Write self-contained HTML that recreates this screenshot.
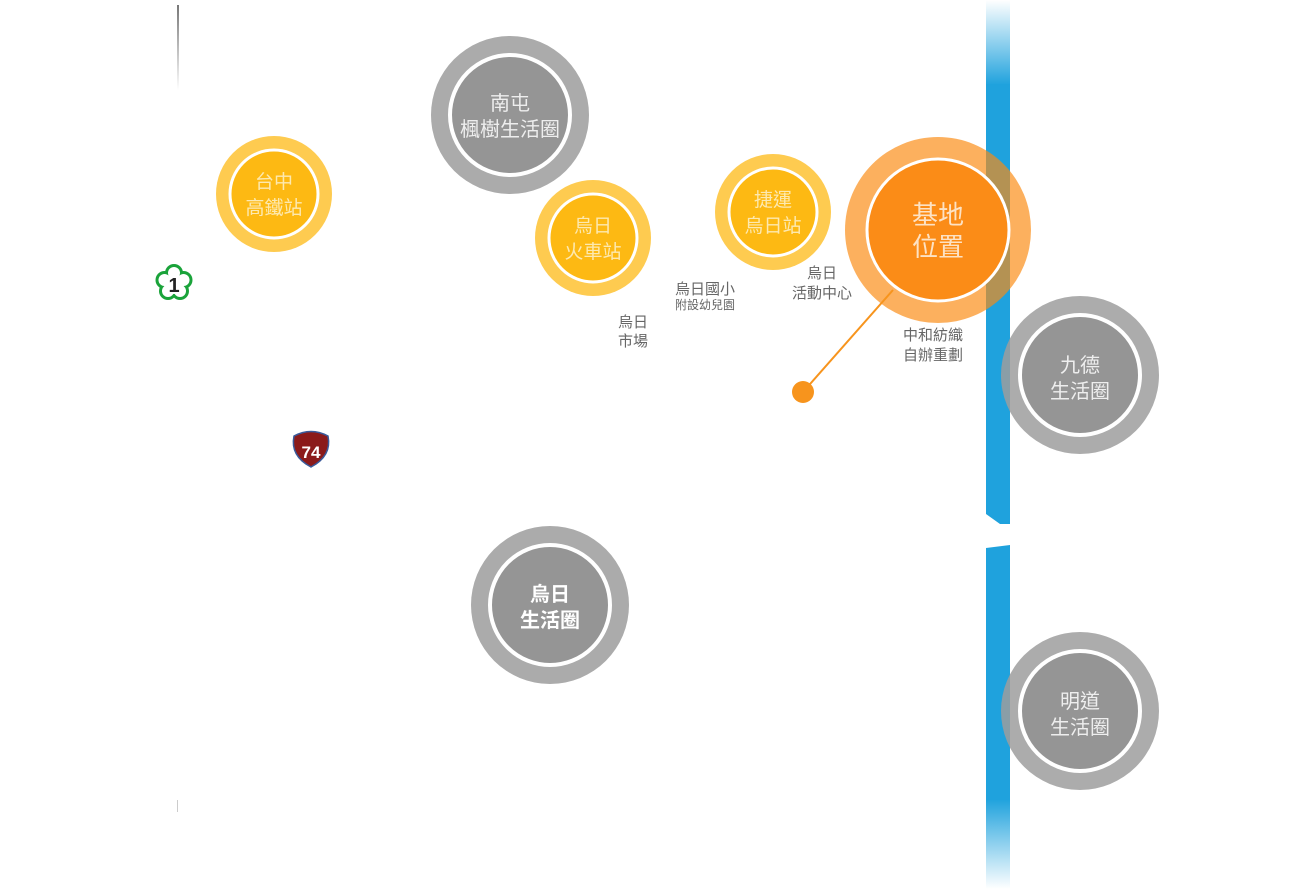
<!DOCTYPE html>
<html><head><meta charset="utf-8"><style>
html,body{margin:0;padding:0;background:#fff;}
svg{display:block;}
text{font-family:"Liberation Sans","Noto Sans CJK TC",sans-serif;}
</style></head><body>
<svg width="1300" height="889" viewBox="0 0 1300 889" xmlns="http://www.w3.org/2000/svg">
<defs>
<linearGradient id="bt" x1="0" y1="0" x2="0" y2="1"><stop offset="0" stop-color="#1fa2dd" stop-opacity="0"/><stop offset="1" stop-color="#1fa2dd"/></linearGradient>
<linearGradient id="bb" x1="0" y1="0" x2="0" y2="1"><stop offset="0" stop-color="#1fa2dd"/><stop offset="1" stop-color="#1fa2dd" stop-opacity="0"/></linearGradient>
<linearGradient id="gl" x1="0" y1="0" x2="0" y2="1"><stop offset="0" stop-color="#777"/><stop offset="1" stop-color="#777" stop-opacity="0"/></linearGradient>
</defs>
<rect x="177" y="5" width="2" height="85" fill="url(#gl)"/>
<rect x="177" y="800" width="1" height="12" fill="#ccc"/>
<rect x="986" y="0" width="24" height="85" fill="url(#bt)"/>
<polygon points="986,84 1010,84 1010,524 1000,524 986,514" fill="#1fa2dd"/>
<polygon points="986,548 1010,545 1010,800 986,800" fill="#1fa2dd"/>
<rect x="986" y="799" width="24" height="90" fill="url(#bb)"/>
<g text-anchor="middle">
<circle cx="274" cy="194" r="58" fill="#fecb50"/><circle cx="274" cy="194" r="44" fill="#fdb913" stroke="#fff" stroke-width="3"/>
<text x="274" y="188" font-size="19" fill="#fde9b0">台中</text><text x="274" y="214" font-size="19" fill="#fde9b0">高鐵站</text>
<circle cx="510" cy="115" r="79" fill="#ababab"/><circle cx="510" cy="115" r="60" fill="#959595" stroke="#fff" stroke-width="4"/>
<text x="510" y="110" font-size="20" fill="#eee">南屯</text><text x="510" y="136" font-size="20" fill="#eee">楓樹生活圈</text>
<circle cx="593" cy="238" r="58" fill="#fecb50"/><circle cx="593" cy="238" r="44" fill="#fdb913" stroke="#fff" stroke-width="3"/>
<text x="593" y="232" font-size="19" fill="#fde9b0">烏日</text><text x="593" y="258" font-size="19" fill="#fde9b0">火車站</text>
<circle cx="773" cy="212" r="58" fill="#fecb50"/><circle cx="773" cy="212" r="44" fill="#fdb913" stroke="#fff" stroke-width="3"/>
<text x="773" y="206" font-size="19" fill="#fde9b0">捷運</text><text x="773" y="232" font-size="19" fill="#fde9b0">烏日站</text>
<circle cx="938" cy="230" r="93" fill="#fb8a12" fill-opacity="0.68"/><circle cx="938" cy="230" r="71" fill="#fb8c17" stroke="#fff" stroke-width="3"/>
<text x="938" y="224" font-size="26" fill="#fde2c4">基地</text><text x="938" y="256" font-size="26" fill="#fde2c4">位置</text>
<line x1="803" y1="392" x2="893" y2="290" stroke="#f7941d" stroke-width="2"/>
<circle cx="803" cy="392" r="11" fill="#f7941d"/>
<circle cx="1080" cy="375" r="79" fill="#9d9d9d" fill-opacity="0.85"/><circle cx="1080" cy="375" r="60" fill="#959595" stroke="#fff" stroke-width="4"/>
<text x="1080" y="372" font-size="20" fill="#eee">九德</text><text x="1080" y="398" font-size="20" fill="#eee">生活圈</text>
<circle cx="1080" cy="711" r="79" fill="#9d9d9d" fill-opacity="0.85"/><circle cx="1080" cy="711" r="60" fill="#959595" stroke="#fff" stroke-width="4"/>
<text x="1080" y="708" font-size="20" fill="#eee">明道</text><text x="1080" y="734" font-size="20" fill="#eee">生活圈</text>
<circle cx="550" cy="605" r="79" fill="#ababab"/><circle cx="550" cy="605" r="60" fill="#959595" stroke="#fff" stroke-width="4"/>
<text x="550" y="601" font-size="20" font-weight="bold" fill="#fff">烏日</text><text x="550" y="627" font-size="20" font-weight="bold" fill="#fff">生活圈</text>
<g fill="#666" font-size="15">
<text x="633" y="327">烏日</text><text x="633" y="346">市場</text>
<text x="705" y="294">烏日國小</text><text x="705" y="309" font-size="12">附設幼兒園</text>
<text x="822" y="278">烏日</text><text x="822" y="298">活動中心</text>
<text x="933" y="340">中和紡織</text><text x="933" y="360">自辦重劃</text>
</g>
</g>
<!-- route 1 flower -->
<g fill="#1aa33a">
<circle cx="174" cy="273" r="9"/><circle cx="183.5" cy="280" r="9"/><circle cx="180" cy="291" r="9"/><circle cx="168" cy="291" r="9"/><circle cx="164.5" cy="280" r="9"/>
</g>
<g fill="#fff">
<circle cx="174" cy="273" r="6"/><circle cx="183.5" cy="280" r="6"/><circle cx="180" cy="291" r="6"/><circle cx="168" cy="291" r="6"/><circle cx="164.5" cy="280" r="6"/><circle cx="174" cy="284" r="10"/>
</g>
<text x="174" y="292" text-anchor="middle" font-size="20" font-weight="bold" fill="#222">1</text>
<!-- route 74 shield -->
<path d="M294,436 q17,-9 34,0 q4,20 -17,31 q-21,-11 -17,-31z" fill="#8b1a1a" stroke="#3a5a9a" stroke-width="1.5"/>
<text x="311" y="458" text-anchor="middle" font-size="17" font-weight="bold" fill="#fff">74</text>
</svg>
</body></html>
